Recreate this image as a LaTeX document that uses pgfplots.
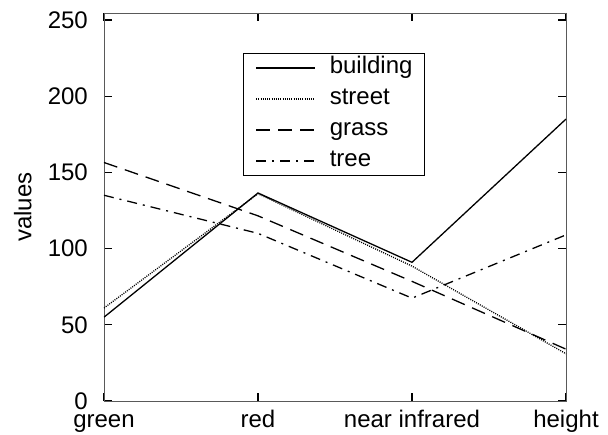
\documentclass[border=0pt]{standalone}
\usepackage{fontspec}
\setmainfont{Liberation Sans}
\usepackage{pgfplots}
\pgfplotsset{compat=1.18}
\begin{document}
\begin{tikzpicture}
\useasboundingbox (-104pt,-33pt) rectangle (504pt,401pt);
\begin{axis}[
  at={(0pt,0pt)}, anchor=south west,
  scale only axis, width=462pt, height=388pt,
  xmin=0, xmax=3, ymin=0, ymax=254.6,
  xtick={0,1,2,3},
  xticklabels={green,red,near infrared,height},
  ytick={0,50,100,150,200,250},
  /pgf/number format/assume math mode=true,
  tick align=inside,
  major tick length=8pt,
  tick style={black, line width=1.1pt},
  axis line style={gray!70!black, line width=0.8pt},
  ticklabel style={font=\fontsize{24}{28}\selectfont},
  xticklabel style={anchor=base, inner sep=0pt, yshift=-27pt},
  yticklabel style={anchor=east, inner sep=0pt, xshift=-16pt},
  ylabel={values},
  ylabel style={at={(axis description cs:-0.156,0.5)}, anchor=south, inner sep=0pt, font=\fontsize{24}{28}\selectfont},
  legend style={at={(0.301,0.897)}, anchor=north west, draw=black, line width=0.8pt,
    inner xsep=12pt, inner ysep=4pt, row sep=10pt, column sep=14pt,
    font=\fontsize{24}{28}\selectfont,
    nodes={inner sep=0pt, text height=16pt, text depth=5pt}},
  legend cell align=left,
  legend image code/.code={\draw[#1] (0pt,0pt) -- (59pt,0pt);},
  every axis plot/.append style={black, line width=1.3pt},
]
\addplot[solid] coordinates {(0,55) (1,136.5) (2,91) (3,185)};
\addlegendentry{building\hspace{9pt}}
\addplot[dash pattern=on 1pt off 1.2pt] coordinates {(0,61) (1,136) (2,88.5) (3,31)};
\addlegendentry{street}
\addplot[dash pattern=on 14pt off 8pt] coordinates {(0,156.5) (1,121.5) (2,78.5) (3,34)};
\addlegendentry{grass}
\addplot[dash pattern=on 10pt off 6pt on 2pt off 6pt] coordinates {(0,135) (1,110) (2,67.5) (3,109)};
\addlegendentry{tree}
\end{axis}
\end{tikzpicture}
\end{document}
